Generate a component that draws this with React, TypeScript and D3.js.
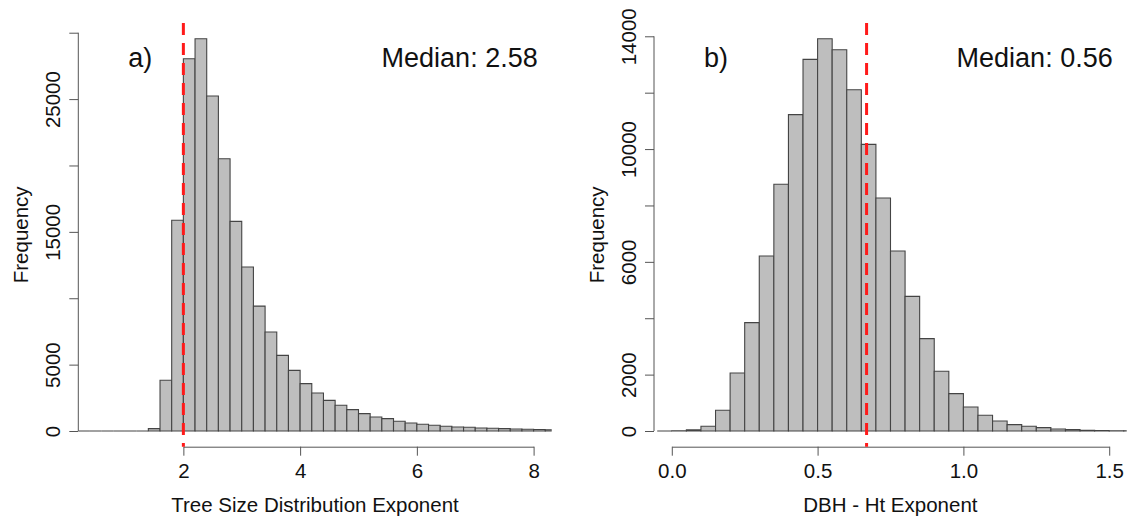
import React, { useEffect, useRef } from 'react';
import * as d3 from 'd3';

// panel a) tree size distribution exponent, bins of 0.2 starting at 0.2
const leftBinStart = 0.2;
const leftBinWidth = 0.2;
const leftCounts = [
  0, 0, 0, 0, 0, 0, 180, 3820, 15870, 28040, 29550, 25230, 20510, 15790, 12350, 9410,
  7455, 5700, 4570, 3570, 2860, 2310, 1935, 1610, 1310, 1055, 935, 730, 600, 505,
  430, 355, 300, 280, 225, 205, 180, 155, 130, 110, 100
];
const leftXLim = [0.2, 8.31];
const leftXTicks = [2, 4, 6, 8];
const leftYTicks = [0, 5000, 10000, 15000, 20000, 25000, 30000];
const leftYLabels = [0, 5000, 15000, 25000];
const leftMedianLine = 2.0;

// panel b) DBH - Ht exponent, bins of 0.05 starting at -0.05
const rightBinStart = -0.05;
const rightBinWidth = 0.05;
const rightCounts = [
  0, 5, 40, 167, 735, 2057, 3845, 6206, 8750, 11220, 13180, 13915, 13525, 12105, 10165,
  8262, 6383, 4777, 3277, 2117, 1326, 851, 557, 355, 227, 167, 120, 71, 50, 25, 15, 10, 8
];
const rightXLim = [-0.061, 1.56];
const rightXTicks = [0, 0.5, 1, 1.5];
const rightYTicks = [0, 2000, 4000, 6000, 8000, 10000, 12000, 14000];
const rightYLabels = [0, 2000, 6000, 10000, 14000];
const rightMedianLine = 0.668;

const FONT = '"Liberation Sans", Arial, Helvetica, sans-serif';

type PanelProps = {
  left: number;
  right: number;
  binStart: number;
  binWidth: number;
  counts: number[];
  xLim: number[];
  xTicks: number[];
  xFormat: (d: number) => string;
  yTicks: number[];
  yLabels: number[];
  medianLine: number;
  tag: string;
  medianText: string;
  xTitle: string;
};

const TOP = 23;
const BOTTOM = 446.7;

function Histogram(props: PanelProps) {
  const ref = useRef<SVGGElement>(null);

  useEffect(() => {
    const g = d3.select(ref.current);
    g.selectAll('*').remove();

    const { left, right, counts, binStart, binWidth } = props;

    // R-style 4% padding on the y range
    const yMax = d3.max(counts) as number;
    const pad = yMax * 0.04;
    const y = d3.scaleLinear().domain([-pad, yMax + pad]).range([BOTTOM, TOP]);
    const x = d3.scaleLinear().domain(props.xLim).range([left, right]);

    const clipId = 'clip-' + props.tag.replace(/\W/g, '');
    g.append('clipPath').attr('id', clipId)
      .append('rect')
      .attr('x', left).attr('y', TOP - 5)
      .attr('width', right - left).attr('height', BOTTOM - TOP + 5);

    // bars
    g.append('g')
      .attr('clip-path', `url(#${clipId})`)
      .selectAll('path')
      .data(counts)
      .enter().append('path')
      .attr('d', (d, i) => {
        const x0 = x(binStart + i * binWidth);
        const x1 = x(binStart + (i + 1) * binWidth);
        return `M${x0},${y(0)}V${y(d)}H${x1}V${y(0)}Z`;
      })
      .attr('fill', '#bebebe')
      .attr('stroke', '#444')
      .attr('stroke-width', 1.1);

    // y axis
    const yAxis = d3.axisLeft(y)
      .tickValues(props.yTicks)
      .tickSize(9)
      .tickSizeOuter(0)
      .tickFormat((d) => (props.yLabels.indexOf(+d) >= 0 ? String(d) : ''));
    const ya = g.append('g').attr('transform', `translate(${left},0)`).call(yAxis);
    ya.select('.domain').remove();
    ya.append('line')
      .attr('y1', y(props.yTicks[0])).attr('y2', y(props.yTicks[props.yTicks.length - 1]))
      .attr('stroke', '#555');
    ya.selectAll('.tick line').attr('stroke', '#555');
    ya.selectAll('.tick text')
      .attr('x', 0).attr('dy', 0)
      .attr('transform', 'translate(-18.5,0) rotate(-90)')
      .attr('text-anchor', 'middle')
      .attr('fill', '#111')
      .style('font-size', '20.5px')
      .style('font-family', FONT);

    // x axis
    const xAxisScale = d3.scaleLinear()
      .domain([props.xTicks[0], props.xTicks[props.xTicks.length - 1]])
      .range([x(props.xTicks[0]), x(props.xTicks[props.xTicks.length - 1])]);
    const xAxis = d3.axisBottom(xAxisScale)
      .tickValues(props.xTicks)
      .tickSize(9)
      .tickSizeOuter(0)
      .tickFormat((d) => props.xFormat(+d));
    const xa = g.append('g').attr('transform', `translate(0,${BOTTOM})`).call(xAxis);
    xa.select('.domain').attr('stroke', '#555');
    xa.selectAll('.tick line').attr('stroke', '#555');
    xa.selectAll('.tick text')
      .attr('y', 31.6).attr('dy', 0)
      .attr('fill', '#111')
      .style('font-size', '20.5px')
      .style('font-family', FONT);

    // median line
    g.append('line')
      .attr('x1', x(props.medianLine)).attr('x2', x(props.medianLine))
      .attr('y1', TOP).attr('y2', BOTTOM)
      .attr('stroke', '#ff1a1a')
      .attr('stroke-width', 3)
      .attr('stroke-dasharray', '12 8');

    // titles
    g.append('text')
      .attr('x', (left + right) / 2).attr('y', 511.5)
      .attr('text-anchor', 'middle')
      .style('font-size', '20.5px').style('font-family', FONT)
      .attr('fill', '#111')
      .text(props.xTitle);

    g.append('text')
      .attr('transform', `translate(${left - 50},${(TOP + BOTTOM) / 2}) rotate(-90)`)
      .attr('text-anchor', 'middle')
      .style('font-size', '20.5px').style('font-family', FONT)
      .attr('fill', '#111')
      .text('Frequency');

    g.append('text')
      .attr('x', left + 50).attr('y', 67)
      .style('font-size', '27px').style('font-family', FONT)
      .attr('fill', '#111')
      .text(props.tag);

    g.append('text')
      .attr('x', right - 14).attr('y', 67)
      .attr('text-anchor', 'end')
      .style('font-size', '27px').style('font-family', FONT)
      .attr('fill', '#111')
      .text(props.medianText);
  }, [props]);

  return <g ref={ref} />;
}

export default function App() {
  return (
    <svg
      width={1130}
      height={516}
      style={{ position: 'absolute', left: 0, top: 0, background: '#fff' }}
    >
      <Histogram
        left={78.3}
        right={551.7}
        binStart={leftBinStart}
        binWidth={leftBinWidth}
        counts={leftCounts}
        xLim={leftXLim}
        xTicks={leftXTicks}
        xFormat={(d) => String(d)}
        yTicks={leftYTicks}
        yLabels={leftYLabels}
        medianLine={leftMedianLine}
        tag="a)"
        medianText="Median: 2.58"
        xTitle="Tree Size Distribution Exponent"
      />
      <Histogram
        left={654}
        right={1126.7}
        binStart={rightBinStart}
        binWidth={rightBinWidth}
        counts={rightCounts}
        xLim={rightXLim}
        xTicks={rightXTicks}
        xFormat={(d) => d.toFixed(1)}
        yTicks={rightYTicks}
        yLabels={rightYLabels}
        medianLine={rightMedianLine}
        tag="b)"
        medianText="Median: 0.56"
        xTitle="DBH - Ht Exponent"
      />
    </svg>
  );
}
